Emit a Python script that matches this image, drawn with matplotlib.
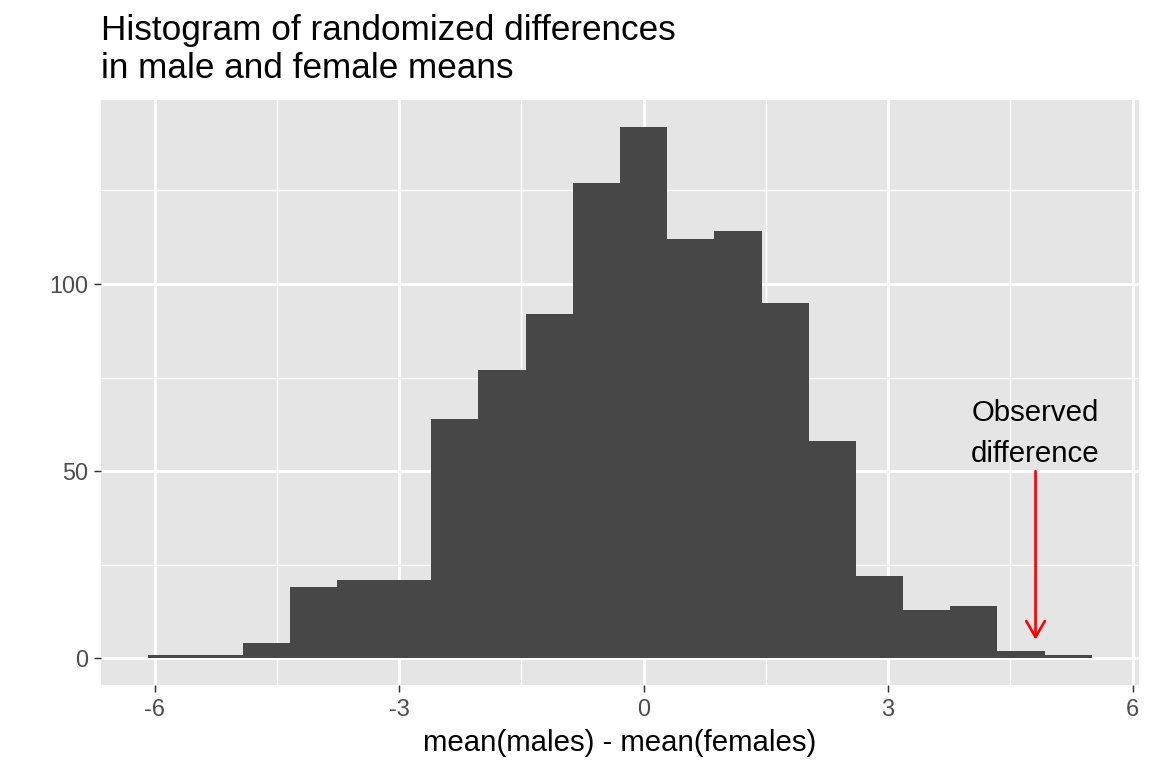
import numpy as np
import matplotlib
matplotlib.use("Agg")
import matplotlib.pyplot as plt

# ---------------------------- data ---------------------------- #
bin_width = 0.579
bin_index = list(range(-10, 10))          # bins centred on k * bin_width
counts = [1, 1, 4, 19, 21, 21, 64, 77, 92, 127,
          142, 112, 114, 95, 58, 22, 13, 14, 2, 1]
observed_diff = 4.81
arrow_top, arrow_bottom = 50, 5
label_y = 60
x_ticks = [-6, -3, 0, 3, 6]
x_minor = [-4.5, -1.5, 1.5, 4.5]
y_ticks = [0, 50, 100]
y_minor = [25, 75, 125]

plt.rcParams["font.family"] = ["Liberation Sans", "DejaVu Sans"]

fig = plt.figure(figsize=(6, 4), dpi=192)
ax = fig.add_axes([101 / 1152, 1 - 685 / 768, 1038 / 1152, 585 / 768])

ax.set_facecolor("#E5E5E5")
for s in ax.spines.values():
    s.set_visible(False)

centers = np.array(bin_index) * bin_width
ax.bar(centers, counts, width=bin_width, color="#474747", linewidth=0, zorder=3)

# expand like ggplot (5 %)
lo, hi = centers[0] - bin_width / 2, centers[-1] + bin_width / 2
pad = (hi - lo) * 0.05
ax.set_xlim(lo - pad, hi + pad)
ypad = max(counts) * 0.05
ax.set_ylim(-ypad, max(counts) + ypad)

ax.set_xticks(x_ticks)
ax.set_xticks(x_minor, minor=True)
ax.set_yticks(y_ticks)
ax.set_yticks(y_minor, minor=True)
ax.set_xticklabels([str(t) for t in x_ticks])
ax.grid(which="major", color="white", linewidth=1.1, zorder=0)
ax.grid(which="minor", color="white", linewidth=0.55, zorder=0)
ax.set_axisbelow(True)
ax.tick_params(which="major", length=2.75, width=0.55, color="#333333",
               labelsize=8.8, labelcolor="#4D4D4D", pad=2.2)
ax.tick_params(which="minor", length=0)

ax.set_xlabel("mean(males) - mean(females)", fontsize=11, color="black", labelpad=3)

# annotation
ax.annotate("", xy=(observed_diff, arrow_bottom), xytext=(observed_diff, arrow_top),
            arrowprops=dict(arrowstyle="->,head_length=0.6,head_width=0.35",
                            color="red", lw=1.0, shrinkA=0, shrinkB=0), zorder=5)
ax.text(observed_diff, label_y, "Observed\ndifference", ha="center", va="center",
        fontsize=11, linespacing=1.6, zorder=5)

fig.text(101 / 1152, 1 - 14 / 768, "Histogram of randomized differences\nin male and female means",
         ha="left", va="top", fontsize=13.2, linespacing=1.2)

fig.savefig("out.png", dpi=192)
